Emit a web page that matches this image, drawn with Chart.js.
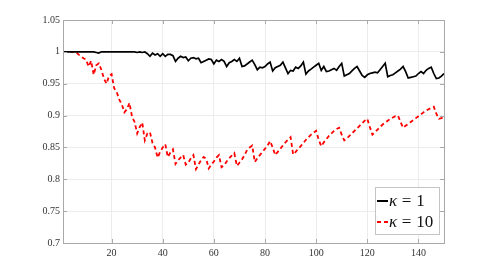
<!DOCTYPE html>
<html>
<head>
<meta charset="utf-8">
<script src="https://cdn.jsdelivr.net/npm/chart.js@4.4.1/dist/chart.umd.min.js"></script>
<style>
  html, body { margin: 0; padding: 0; background: #fff; }
  #wrap { width: 491px; height: 273px; }
</style>
</head>
<body>
<div id="wrap"><canvas id="chart" width="491" height="273"></canvas></div>
<script>
// values, one per iteration 1..150
const kappa1 = [
  1, 1, 1, 1, 1, 1, 1, 1, 1, 1,
  1, 1, 1, 0.999, 0.998, 1, 1, 1, 1, 1,
  1, 1, 1, 1, 1, 1, 1, 1, 1, 0.999,
  1, 0.999, 1, 0.997, 0.993, 0.998, 0.995, 0.997, 0.993, 0.997,
  0.993, 0.996, 0.996, 0.994, 0.985, 0.990, 0.993, 0.991, 0.992, 0.986,
  0.990, 0.991, 0.989, 0.990, 0.983, 0.985, 0.987, 0.989, 0.988, 0.981,
  0.987, 0.985, 0.988, 0.985, 0.977, 0.983, 0.985, 0.988, 0.985, 0.990,
  0.977, 0.978, 0.981, 0.984, 0.987, 0.980, 0.972, 0.976, 0.975, 0.977,
  0.981, 0.984, 0.970, 0.975, 0.977, 0.979, 0.984, 0.975, 0.966, 0.971,
  0.970, 0.976, 0.974, 0.978, 0.984, 0.965, 0.970, 0.973, 0.976, 0.979,
  0.982, 0.971, 0.977, 0.969, 0.970, 0.972, 0.974, 0.971, 0.977, 0.982,
  0.962, 0.964, 0.966, 0.970, 0.974, 0.977, 0.970, 0.963, 0.960, 0.964,
  0.966, 0.967, 0.968, 0.967, 0.972, 0.977, 0.982, 0.961, 0.963, 0.964,
  0.967, 0.970, 0.973, 0.977, 0.969, 0.959, 0.960, 0.961, 0.962, 0.966,
  0.969, 0.966, 0.971, 0.974, 0.976, 0.966, 0.958, 0.959, 0.962, 0.966
];
const kappa10 = [
  1, 1, 1, 1, 1, 1, 0.996, 0.993, 0.990, 0.988,
  0.977, 0.986, 0.964, 0.979, 0.982, 0.972, 0.958, 0.950, 0.962, 0.965,
  0.943, 0.937, 0.925, 0.918, 0.905, 0.910, 0.920, 0.898, 0.890, 0.872,
  0.882, 0.889, 0.861, 0.872, 0.874, 0.857, 0.850, 0.834, 0.843, 0.850,
  0.855, 0.835, 0.842, 0.847, 0.824, 0.830, 0.834, 0.838, 0.823, 0.826,
  0.833, 0.838, 0.816, 0.823, 0.830, 0.835, 0.832, 0.817, 0.823, 0.828,
  0.834, 0.838, 0.819, 0.822, 0.828, 0.833, 0.837, 0.841, 0.821, 0.826,
  0.831, 0.838, 0.846, 0.850, 0.853, 0.827, 0.833, 0.838, 0.843, 0.848,
  0.853, 0.860, 0.850, 0.838, 0.843, 0.848, 0.853, 0.858, 0.862, 0.866,
  0.839, 0.843, 0.848, 0.852, 0.857, 0.862, 0.866, 0.870, 0.873, 0.876,
  0.862, 0.852, 0.858, 0.863, 0.868, 0.872, 0.876, 0.879, 0.881, 0.870,
  0.861, 0.864, 0.868, 0.872, 0.876, 0.880, 0.884, 0.888, 0.892, 0.895,
  0.882, 0.870, 0.874, 0.878, 0.882, 0.886, 0.889, 0.892, 0.895, 0.897,
  0.899, 0.900, 0.890, 0.881, 0.884, 0.887, 0.890, 0.893, 0.896, 0.899,
  0.902, 0.905, 0.908, 0.910, 0.912, 0.914, 0.903, 0.895, 0.896, 0.898
];
const xTicks = [20, 40, 60, 80, 100, 120, 140];
const yTicks = [0.7, 0.75, 0.8, 0.85, 0.9, 0.95, 1, 1.05];
const legendLabels = ['1', '10'];

const tickFont = { family: "'Liberation Serif', 'DejaVu Serif', serif", size: 10 };
const frameColor = '#a9a9a9';
const redDash = [4, 3];

function toPoints(values) {
  return values.map((v, i) => ({ x: i + 1, y: v }));
}

// draws the box round the axes, inward ticks and the legend
const framePlugin = {
  id: 'frame',
  afterDraw(chart) {
    const ctx = chart.ctx;
    const a = chart.chartArea;
    const xs = chart.scales.x, ys = chart.scales.y;
    ctx.save();
    ctx.strokeStyle = frameColor;
    ctx.lineWidth = 1;
    ctx.strokeRect(Math.round(a.left) + 0.5, Math.round(a.top) + 0.5,
                   Math.round(a.right - a.left), Math.round(a.bottom - a.top));
    ctx.beginPath();
    xTicks.forEach((t) => {
      const px = Math.round(xs.getPixelForValue(t)) + 0.5;
      ctx.moveTo(px, a.bottom); ctx.lineTo(px, a.bottom - 4);
      ctx.moveTo(px, a.top); ctx.lineTo(px, a.top + 4);
    });
    yTicks.forEach((t) => {
      const py = Math.round(ys.getPixelForValue(t)) + 0.5;
      ctx.moveTo(a.left, py); ctx.lineTo(a.left + 4, py);
      ctx.moveTo(a.right, py); ctx.lineTo(a.right - 4, py);
    });
    ctx.stroke();

    // legend, bottom right inside the axes
    const lx = Math.round(a.right) - 68.5, ly = Math.round(a.bottom) - 55.5;
    ctx.fillStyle = '#fff';
    ctx.fillRect(lx, ly, 64, 47);
    ctx.strokeStyle = '#c4c4c4';
    ctx.strokeRect(lx, ly, 64, 47);
    const rows = [
      { color: '#000', dash: [], y: ly + 13.5 },
      { color: '#ff0000', dash: redDash, y: ly + 34.5 }
    ];
    rows.forEach((row, i) => {
      ctx.strokeStyle = row.color;
      ctx.lineWidth = 2;
      ctx.setLineDash(row.dash);
      ctx.beginPath();
      ctx.moveTo(lx + 1.5, row.y);
      ctx.lineTo(lx + 12.5, row.y);
      ctx.stroke();
      ctx.setLineDash([]);
      ctx.fillStyle = '#111';
      ctx.textBaseline = 'middle';
      let tx = lx + 13.5;
      ctx.font = "italic 17px 'Liberation Serif', serif";
      ctx.fillText('κ', tx, row.y + 1);
      tx += ctx.measureText('κ').width + 4.7;
      ctx.font = "17px 'Liberation Serif', serif";
      ctx.fillText('=', tx, row.y + 1);
      tx += ctx.measureText('=').width + 4.7;
      ctx.fillText(legendLabels[i], tx, row.y + 1);
    });
    ctx.restore();
  }
};

const chart = new Chart(document.getElementById('chart'), {
  type: 'line',
  data: {
    datasets: [
      {
        label: 'κ = 1',
        data: toPoints(kappa1),
        borderColor: '#000',
        borderWidth: 1.7,
        pointRadius: 0,
        tension: 0
      },
      {
        label: 'κ = 10',
        data: toPoints(kappa10),
        borderColor: '#ff0000',
        borderWidth: 1.8,
        borderDash: redDash,
        pointRadius: 0,
        tension: 0
      }
    ]
  },
  options: {
    responsive: false,
    animation: false,
    layout: { padding: { top: 20, right: 47, bottom: 0, left: 0 } },
    plugins: { legend: { display: false }, tooltip: { enabled: false } },
    scales: {
      x: {
        type: 'linear',
        min: 1,
        max: 150,
        afterBuildTicks: (s) => { s.ticks = xTicks.map((v) => ({ value: v })); },
        afterFit: (s) => { s.height = 30; },
        grid: { color: '#ececec', drawTicks: false },
        border: { display: false },
        ticks: { font: tickFont, color: '#333', padding: 4, maxRotation: 0 }
      },
      y: {
        min: 0.7,
        max: 1.05,
        afterBuildTicks: (s) => { s.ticks = yTicks.map((v) => ({ value: v })); },
        afterFit: (s) => { s.width = 63; },
        grid: { color: '#ececec', drawTicks: false },
        border: { display: false },
        ticks: {
          font: tickFont,
          color: '#333',
          padding: 3,
          callback: (v) => String(+v.toFixed(2))
        }
      }
    }
  },
  plugins: [framePlugin]
});
</script>
</body>
</html>
